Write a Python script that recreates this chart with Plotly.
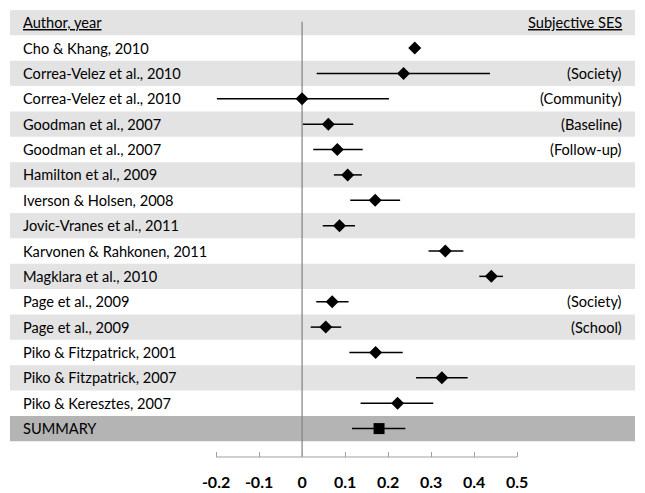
import plotly.graph_objects as go

studies = ["Cho & Khang, 2010", "Correa-Velez et al., 2010", "Correa-Velez et al., 2010",
           "Goodman et al., 2007", "Goodman et al., 2007", "Hamilton et al., 2009",
           "Iverson & Holsen, 2008", "Jovic-Vranes et al., 2011", "Karvonen & Rahkonen, 2011",
           "Magklara et al., 2010", "Page et al., 2009", "Page et al., 2009",
           "Piko & Fitzpatrick, 2001", "Piko & Fitzpatrick, 2007", "Piko & Keresztes, 2007"]
subgroups = ["", "(Society)", "(Community)", "(Baseline)", "(Follow-up)", "", "", "", "", "",
             "(Society)", "(School)", "", "", ""]
effect = [0.262, 0.236, 0.0, 0.061, 0.082, 0.106, 0.170, 0.087, 0.333, 0.440,
          0.070, 0.055, 0.171, 0.325, 0.222]
lower = [0.258, 0.034, -0.198, 0.002, 0.026, 0.074, 0.112, 0.048, 0.294, 0.412,
         0.033, 0.020, 0.110, 0.265, 0.136]
upper = [0.266, 0.437, 0.202, 0.119, 0.141, 0.139, 0.228, 0.123, 0.375, 0.467,
         0.108, 0.091, 0.234, 0.385, 0.305]
summary_label = "SUMMARY"
summary_effect = 0.179
summary_lower = 0.116
summary_upper = 0.240
header_left = "Author, year"
header_right = "Subjective SES"
tick_values = [-0.2, -0.1, 0, 0.1, 0.2, 0.3, 0.4, 0.5]
tick_labels = ["-0.2", "-0.1", "0", "0.1", "0.2", "0.3", "0.4", "0.5"]

FONT = "Lato"
n = len(studies)
rows = list(range(1, n + 1))
sum_row = n + 1

fig = go.Figure()

shapes = []
for r in range(0, n + 2):
    if r == sum_row:
        col = "#b4b4b4"
    elif r % 2 == 0:
        col = "#e3e3e3"
    else:
        continue
    shapes.append(dict(type="rect", xref="paper", yref="y", x0=0, x1=1,
                       y0=r - 0.5, y1=r + 0.5, fillcolor=col, line_width=0, layer="below"))
shapes.append(dict(type="line", xref="x", yref="y", x0=0, x1=0, y0=-0.04, y1=17.12,
                   line=dict(color="#808080", width=1.2), layer="below"))
shapes.append(dict(type="line", xref="x", yref="paper", x0=tick_values[0], x1=tick_values[-1],
                   y0=0, y1=0, line=dict(color="#a0a0a0", width=1.2)))

fig.add_trace(go.Scatter(
    x=effect, y=rows, mode="markers",
    marker=dict(symbol="diamond", size=10, color="black"),
    error_x=dict(type="data", symmetric=False,
                 array=[u - e for u, e in zip(upper, effect)],
                 arrayminus=[e - l for e, l in zip(effect, lower)],
                 width=0, thickness=1.5, color="black"),
    showlegend=False, hoverinfo="skip"))
fig.add_trace(go.Scatter(
    x=[summary_effect], y=[sum_row], mode="markers",
    marker=dict(symbol="square", size=11, color="black"),
    error_x=dict(type="data", symmetric=False,
                 array=[summary_upper - summary_effect],
                 arrayminus=[summary_effect - summary_lower],
                 width=0, thickness=1.5, color="black"),
    showlegend=False, hoverinfo="skip"))

ann = []
xl = 0.0176
xr = 0.9824
fs = 14.6
tf = dict(family=FONT, size=fs, color="black")
ann.append(dict(xref="paper", yref="y", x=xl, y=0, text="<u>" + header_left + "</u>",
                xanchor="left", showarrow=False, font=tf))
ann.append(dict(xref="paper", yref="y", x=xr, y=0, text="<u>" + header_right + "</u>",
                xanchor="right", showarrow=False, font=tf))
for r, s, g in zip(rows, studies, subgroups):
    ann.append(dict(xref="paper", yref="y", x=xl, y=r, text=s, xanchor="left", showarrow=False, font=tf))
    if g:
        ann.append(dict(xref="paper", yref="y", x=xr, y=r, text=g, xanchor="right", showarrow=False, font=tf))
ann.append(dict(xref="paper", yref="y", x=xl, y=sum_row, text=summary_label, xanchor="left",
                showarrow=False, font=tf))

fig.update_layout(
    width=637, height=485,
    margin=dict(l=2, r=10, t=2, b=34),
    paper_bgcolor="white", plot_bgcolor="white",
    shapes=shapes, annotations=ann,
    xaxis=dict(range=[-0.679, 0.774], tickvals=tick_values,
               ticktext=["<b>" + t + "</b>" for t in tick_labels],
               showgrid=False, zeroline=False, showline=False,
               ticks="inside", ticklen=5, tickcolor="#a0a0a0", tickwidth=1.2,
               ticklabelstandoff=14,
               tickfont=dict(family=FONT, size=16, color="black")),
    yaxis=dict(range=[17.12, -0.5], showgrid=False, zeroline=False, showticklabels=False,
               showline=False, ticks=""),
)

fig.write_html("out.html")
